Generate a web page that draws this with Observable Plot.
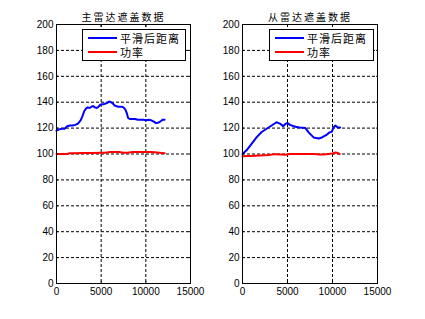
<!DOCTYPE html>
<html><head><meta charset="utf-8">
<script src="https://cdn.jsdelivr.net/npm/d3@7"></script>
<script src="https://cdn.jsdelivr.net/npm/@observablehq/plot@0.6"></script>
<style>
body{margin:0;background:#fff;}
#fig{position:relative;width:425px;height:319px;overflow:hidden;background:#fff;}
.panel{position:absolute;top:0;}
.legend{position:absolute;top:29px;height:32px;border:1px solid #000;background:#fff;box-sizing:border-box;font-family:"Noto Sans CJK SC";font-size:11px;letter-spacing:1px;color:#000;}
.row{position:absolute;left:0;display:flex;align-items:center;height:12px;white-space:nowrap;}
.sw{width:29px;height:0;border-top:2px solid;margin-left:5px;margin-right:3px;}
</style></head><body><div id="fig"></div>
<script>
// ---- data ----
const xTicks = [0, 5000, 10000, 15000];
const yTicks = [0, 20, 40, 60, 80, 100, 120, 140, 160, 180, 200];
const titles = ["主雷达遮盖数据", "从雷达遮盖数据"];
const seriesNames = ["平滑后距离", "功率"];

const mainDistX = [0,300,600,900,1200,1500,1800,2100,2400,2700,2900,3100,3300,3500,3700,3900,4100,4300,4500,4700,4900,5100,5300,5500,5700,5900,6100,6300,6500,6700,6900,7100,7300,7500,7700,7900,8000,8200,8500,8800,9100,9400,9700,10000,10300,10600,10900,11100,11300,11500,11700,11900,12100];
const mainDist  = [118,119,119.5,119.5,121.5,122,122,122.5,123.5,126,129,133,135,136,135.5,136.5,137,136,135.5,136.5,138,138.5,138.5,139,139.5,140.5,140,139,137.5,137,136.5,136.5,136.5,136,134.5,131,128,127,127,127,126.5,126.5,126.5,126,126.5,126,125,124,124,124.5,125.5,126.5,126.5];
const mainPowX  = [0,600,1200,1400,2000,3000,4000,5000,5500,6000,7000,7500,8000,8500,9500,10500,11000,11500,12100];
const mainPow   = [100,100,100,100.5,100.5,100.7,100.8,101,101,101.5,101.5,101,101,101.5,101.5,101.5,101.3,101,100.6];

const subDistX = [0,475,1030,1580,2130,2680,3230,3780,4150,4520,4820,5000,5260,5880,6360,6990,7350,7900,8450,8830,9380,9670,9930,10110,10300,10600,10850];
const subDist  = [100,103,108,113,117,119.5,122,124.5,123.5,121.5,123.5,124,122.5,121.1,120.5,120,116.7,112.8,112,112.8,115,116.7,117.2,120.5,121.9,120.5,120.5];
const subPowX  = [0,1430,2900,3640,4750,5300,6500,8000,8500,9000,9500,10000,10300,10600,10800];
const subPow   = [98.2,98.7,99.2,99.9,99.4,100,100,100,99.6,99.6,100,100.4,101.2,100.7,100];

const panels = [
  {left: 0,   width: 212, mL: 56, mR: 22, title: titles[0], dx: mainDistX, d: mainDist, px: mainPowX, p: mainPow, legLeft: 82,  legW: 104},
  {left: 212, width: 213, mL: 30, mR: 48, title: titles[1], dx: subDistX,  d: subDist,  px: subPowX,  p: subPow,  legLeft: 269, legW: 105}
];

const fig = document.getElementById("fig");
for (const pn of panels) {
  const svg = Plot.plot({
    width: pn.width, height: 319,
    marginLeft: pn.mL, marginRight: pn.mR, marginTop: 24, marginBottom: 36,
    x: {domain: [0, 15000]},
    y: {domain: [0, 200]},
    style: {fontFamily: "Liberation Sans, Arial, sans-serif", fontSize: "10px", background: "white", color: "black", overflow: "visible"},
    marks: [
      Plot.gridY(yTicks.slice(1, -1), {stroke: "black", strokeOpacity: 1, strokeDasharray: "3,2"}),
      Plot.gridX(xTicks.slice(1, -1), {stroke: "black", strokeOpacity: 1, strokeDasharray: "3,2"}),
      Plot.line(pn.d, {x: pn.dx, y: pn.d, stroke: "#0000ff", strokeWidth: 2, strokeLinejoin: "round"}),
      Plot.line(pn.p, {x: pn.px, y: pn.p, stroke: "#ff0000", strokeWidth: 2, strokeLinejoin: "round"}),
      Plot.frame({stroke: "black"}),
      Plot.axisY(yTicks, {anchor: "left", tickSize: 0, tickPadding: 3, label: null, fill: "black", tickFormat: d => String(d)}),
      Plot.axisX(xTicks, {anchor: "bottom", tickSize: 0, tickPadding: 4, label: null, fill: "black", tickFormat: d => String(d)}),
      Plot.axisY(yTicks, {anchor: "left", tickSize: -2, tickFormat: () => "", label: null}),
      Plot.axisY(yTicks, {anchor: "right", tickSize: -2, tickFormat: () => "", label: null}),
      Plot.axisX(xTicks, {anchor: "bottom", tickSize: -2, tickFormat: () => "", label: null}),
      Plot.axisX(xTicks, {anchor: "top", tickSize: -2, tickFormat: () => "", label: null}),
      Plot.text([pn.title], {frameAnchor: "top", dy: -11, fontFamily: "Noto Sans CJK SC", fontSize: 10, fill: "black"})
    ]
  });
  svg.querySelectorAll("text").forEach(t => {
    if (t.textContent === pn.title) t.setAttribute("letter-spacing", "2");
  });
  svg.classList.add("panel");
  svg.style.left = pn.left + "px";
  fig.appendChild(svg);

  const leg = document.createElement("div");
  leg.className = "legend";
  leg.style.left = pn.legLeft + "px";
  leg.style.width = pn.legW + "px";
  const colors = ["#0000ff", "#ff0000"];
  const tops = [1.5, 16];
  seriesNames.forEach((name, i) => {
    const row = document.createElement("div");
    row.className = "row";
    row.style.top = tops[i] + "px";
    const sw = document.createElement("span");
    sw.className = "sw";
    sw.style.borderTopColor = colors[i];
    const tx = document.createElement("span");
    tx.textContent = name;
    row.appendChild(sw); row.appendChild(tx);
    leg.appendChild(row);
  });
  fig.appendChild(leg);
}
</script></body></html>
